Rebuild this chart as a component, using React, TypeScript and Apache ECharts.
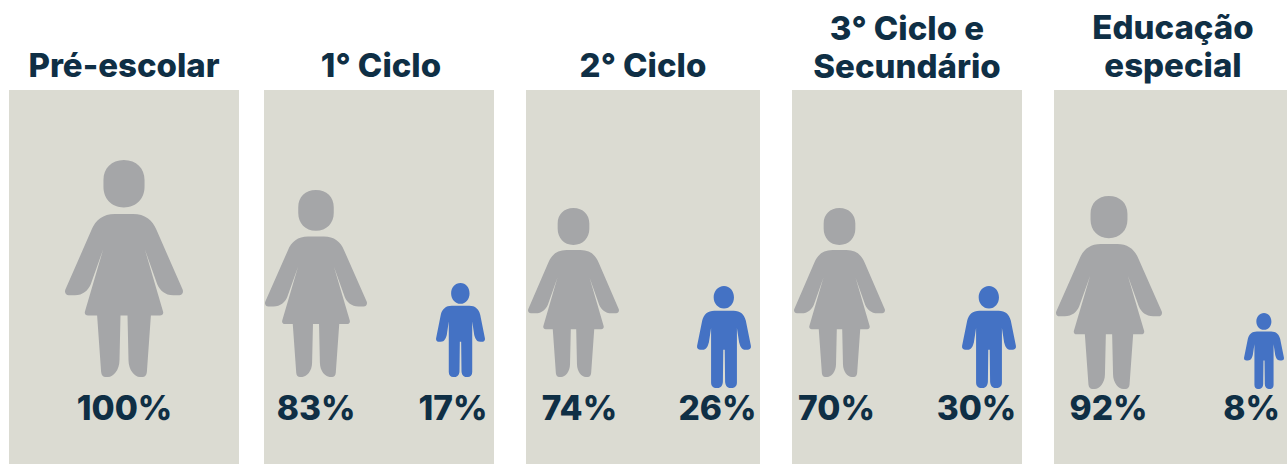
import React, { useEffect, useRef } from "react";
import * as echarts from "echarts";

// ---- data ----
const categories = ["Pré-escolar", "1° Ciclo", "2° Ciclo", "3° Ciclo e\nSecundário", "Educação\nespecial"];
const womenShare = [100, 83, 74, 70, 92];
const childrenShare = [null, 17, 26, 30, 8];

// ---- layout (pixels on the hidden page-sized axes) ----
const panelLeft = [9, 264, 526, 792, 1054];
const panelRight = [239, 494, 760, 1022, 1287];
const panelTop = 90;
const panelBottom = 464;
const titleX = [124, 381, 643, 907, 1173];
const titleY = [65, 65, 65, 47, 46];
const womanX = [124, 316, 573.5, 839.5, 1109];
const womanTop = [160, 190, 208, 208, 196];
const womanBottom = [377, 377, 377, 377, 389];
const womanWidth = [118, 102, 91, 91, 106];
const childX = [0, 460.5, 724, 989, 1264];
const childTop = [0, 283, 286, 286, 313];
const childBottom = [0, 377, 388, 388, 389];
const childWidth = [0, 49, 54, 54, 40];
const womanLabelX = [124.5, 316, 579.5, 836.5, 1108.5];
const childLabelX = [0, 453, 717.5, 976.5, 1251.5];
const labelY = 408;

const FONT = "Inter";
const INK = "#0f2f45";

const WOMAN =
  "path://M372 90C410 90 434 115 434 150V170C434 205 410 232 372 232C335 232 311 205 311 170V150C311 115 335 90 372 90Z" +
  "M345 252L400 252C435 252 458 270 470 300L548 478C552 488 545 495 538 495L520 495C495 495 480 480 472 462L435 358L489 542C492 550 488 556 480 556L453 556L441 725C440 735 435 740 428 740L420 740C405 740 386 720 386 690L383 556L362 556L359 690C359 720 340 740 325 740L317 740C310 740 305 735 304 725L292 556L265 556C257 556 253 550 256 542L310 358L273 462C265 480 250 495 225 495L207 495C200 495 193 488 197 478L275 300C287 270 310 252 345 252Z";

const CHILD =
  "path://M181 40C197 40 208 54 208 71C208 88 197 102 181 102C165 102 153 88 153 71C153 54 165 40 181 40Z" +
  "M155 108L207 108C225 108 236 118 240 135L254 205C255 212 250 215 245 215L240 215C228 215 225 205 222 195L216 155L216 305C216 315 210 320 203 320L198 320C190 320 184 312 184 302L183 215L179 215L178 302C178 312 172 320 164 320L159 320C152 320 146 315 146 305L146 155L140 195C137 205 134 215 122 215L117 215C112 215 107 212 108 205L122 135C126 118 137 108 155 108Z";

export default function App() {
  const ref = useRef<HTMLDivElement>(null);
  useEffect(() => {
    document.body.style.margin = "0";
    const chart = echarts.init(ref.current!, null, { renderer: "svg" });
    const women = womenShare.map((v, i) => ({
      value: [womanX[i], (womanTop[i] + womanBottom[i]) / 2, v],
      symbolSize: [womanWidth[i], womanBottom[i] - womanTop[i]],
    }));
    const children = childrenShare
      .map((v, i) => ({
        value: [childX[i], (childTop[i] + childBottom[i]) / 2, v],
        symbolSize: [childWidth[i], childBottom[i] - childTop[i]],
      }))
      .filter((d) => d.value[2] !== null);
    const pctLabels = [
      ...womenShare.map((v, i) => ({ value: [womanLabelX[i], labelY, v] })),
      ...childrenShare
        .map((v, i) => ({ value: [childLabelX[i], labelY, v] }))
        .filter((d) => d.value[2] !== null),
    ];
    chart.setOption({
      animation: false,
      backgroundColor: "#ffffff",
      grid: { left: 0, right: 0, top: 0, bottom: 0 },
      xAxis: { type: "value", min: 0, max: 1287, show: false },
      yAxis: { type: "value", min: 0, max: 464, inverse: true, show: false },
      tooltip: { show: false },
      series: [
        {
          type: "custom",
          z: 1,
          silent: true,
          data: categories.map((c, i) => [panelLeft[i], panelTop, panelRight[i], panelBottom]),
          renderItem: (_: any, api: any) => {
            const a = api.coord([api.value(0), api.value(1)]);
            const b = api.coord([api.value(2), api.value(3)]);
            return {
              type: "rect",
              shape: { x: a[0], y: a[1], width: b[0] - a[0], height: b[1] - a[1] },
              style: { fill: "#dbdbd2" },
            };
          },
        },
        {
          type: "scatter",
          z: 2,
          silent: true,
          symbol: WOMAN,
          symbolKeepAspect: false,
          itemStyle: { color: "#a5a6a8", opacity: 1 },
          data: women,
        },
        {
          type: "scatter",
          z: 2,
          silent: true,
          symbol: CHILD,
          symbolKeepAspect: false,
          itemStyle: { color: "#4472c4", opacity: 1 },
          data: children,
        },
        {
          type: "scatter",
          z: 3,
          silent: true,
          symbolSize: 0,
          itemStyle: { opacity: 1 },
          label: {
            show: true,
            position: "inside",
            formatter: (p: any) => `${p.value[2]}%`,
            fontFamily: FONT,
            fontWeight: 800,
            fontSize: 33.5,
            opacity: 1,
            color: INK,
          },
          data: pctLabels,
        },
        {
          type: "scatter",
          z: 3,
          silent: true,
          symbolSize: 0,
          itemStyle: { opacity: 1 },
          label: {
            show: true,
            position: "inside",
            formatter: (p: any) => p.name,
            fontFamily: FONT,
            fontWeight: 800,
            fontSize: 33,
            lineHeight: 38,
            align: "center",
            opacity: 1,
            color: INK,
          },
          data: categories.map((c, i) => ({ name: c, value: [titleX[i], titleY[i]] })),
        },
      ],
    });
    return () => chart.dispose();
  }, []);
  return <div ref={ref} style={{ width: 1287, height: 464 }} />;
}
